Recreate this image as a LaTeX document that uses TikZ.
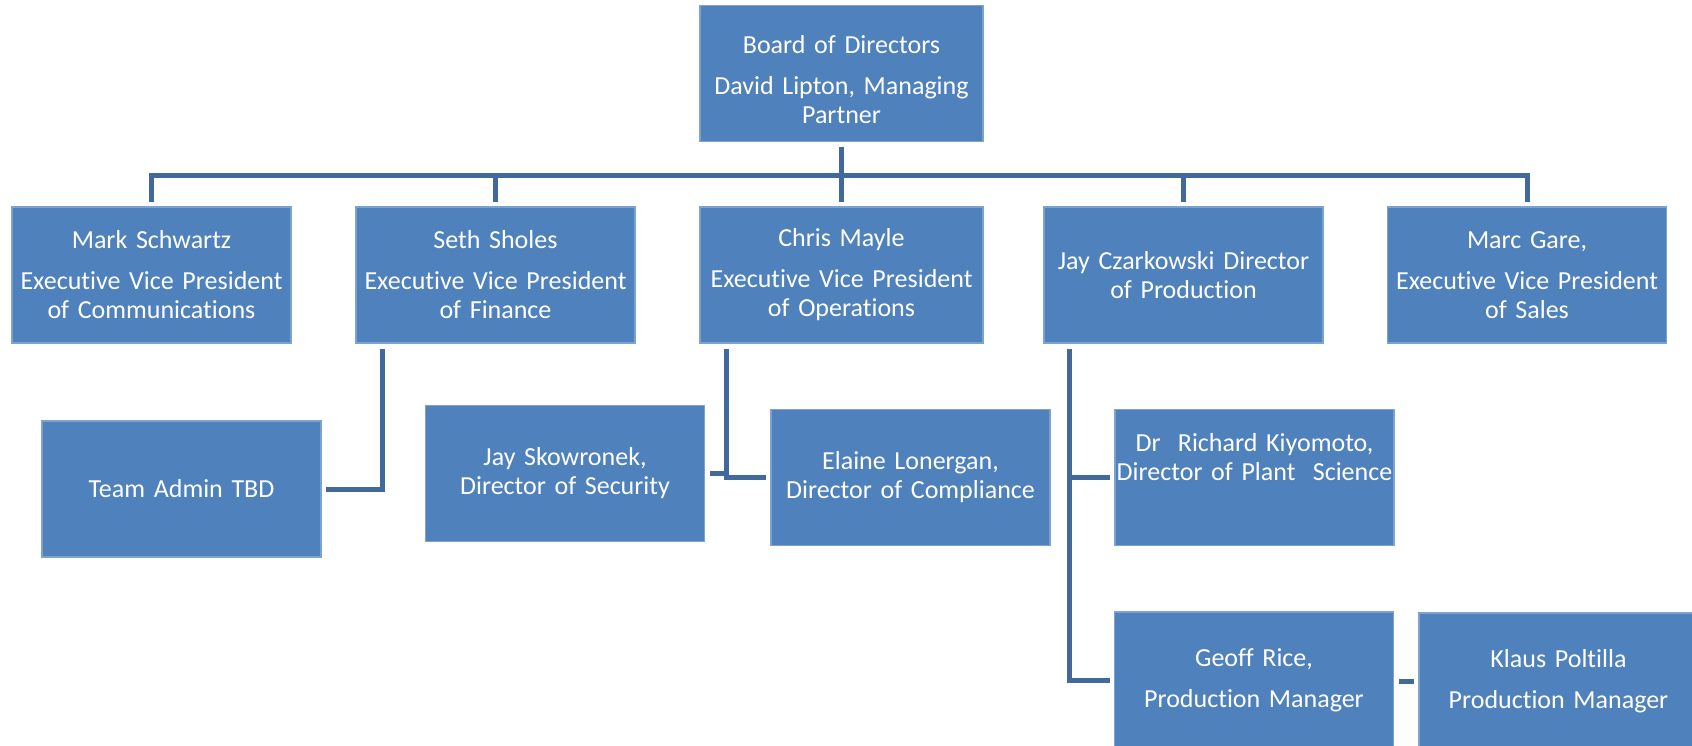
\documentclass[tikz,border=0pt]{standalone}
\usepackage{fontspec}
\setmainfont{Carlito}[Ligatures=NoCommon]
\usetikzlibrary{positioning}
\definecolor{boxblue}{HTML}{4F81BD}
\definecolor{boxedge}{HTML}{7EA2CE}
\definecolor{linkblue}{HTML}{41699C}
\tikzset{orgbox/.style={draw=boxedge, line width=0.6pt, fill=boxblue, text=white, inner sep=0pt, outer sep=2.5pt, minimum width=139.5pt, minimum height=68pt, text width=137pt, align=center, font=\fontsize{13pt}{14.5pt}\selectfont}}
\tikzset{link/.style={draw=linkblue, line width=2.5pt}}
\begin{document}
\begin{tikzpicture}[x=0.5pt, y=-0.5pt]
			\useasboundingbox (0,0) rectangle (1692,745);
			\node[orgbox, minimum width=141.5pt, text width=140pt] (board) at (841.5,73.5) {\rule{0pt}{15pt}Board of Directors\\[6pt]David Lipton, Managing\\Partner};
			%
			\node[orgbox] (mark) at (151.5,275) {Mark Schwartz\\[6pt]Executive Vice President\\of Communications};
			\node[orgbox] (seth) at (495.5,275) {Seth Sholes\\[6pt]Executive Vice President\\of Finance};
			\node[orgbox, minimum width=141.5pt] (chris) at (841.5,275) {Chris Mayle\\[6pt]Executive Vice President\\of Operations};
			\node[orgbox] (jayc) at (1183.5,275) {Jay Czarkowski Director\\of Production};
			\node[orgbox] (marc) at (1527,275) {Marc Gare,\\[6pt]Executive Vice President\\of Sales};
			%
			\node[orgbox] (admin) at (181.5,489) {Team Admin TBD};
			\node[orgbox] (skow) at (565,473.5) {Jay Skowronek,\\Director of Security};
			\node[orgbox] (elaine) at (910.5,477.5) {Elaine Lonergan,\\Director of Compliance};
			\node[orgbox, text width=139.5pt] (kiyo) at (1254.5,477.5) {Dr\ \ Richard Kiyomoto,\\Director of Plant\ \ Science\\[6pt]\mbox{}};
			\node[orgbox] (geoff) at (1254,680) {Geoff Rice,\\[6pt]Production Manager};
			\node[orgbox] (klaus) at (1558.5,681) {Klaus Poltilla\\[6pt]Production Manager};
			%
			\coordinate (bar) at (841.5,175.5);
			\coordinate (sethdrop) at (382,349);
			\coordinate (chrisdrop) at (726,349);
			\coordinate (jaydrop) at (1069,349);
			%
			\draw[link] (board) -- (chris);
			\draw[link] (mark.north) -- (mark.north |- bar) -- (marc.north |- bar) -- (marc.north);
			\foreach \n in {seth,jayc}
				\draw[link] (\n.north) -- (\n.north |- bar);
			%
			\draw[link] (admin.east) -| (sethdrop);
			\draw[link] (chrisdrop) |- (elaine.west);
			\draw[link] (skow.east) -- (skow.east -| chrisdrop);
			\draw[link] (jaydrop) |- (geoff.west);
			\draw[link] (jaydrop |- kiyo.west) -- (kiyo.west);
			\draw[link] (klaus.west) -- (klaus.west -| geoff.east);
		\end{tikzpicture}
\end{document}
